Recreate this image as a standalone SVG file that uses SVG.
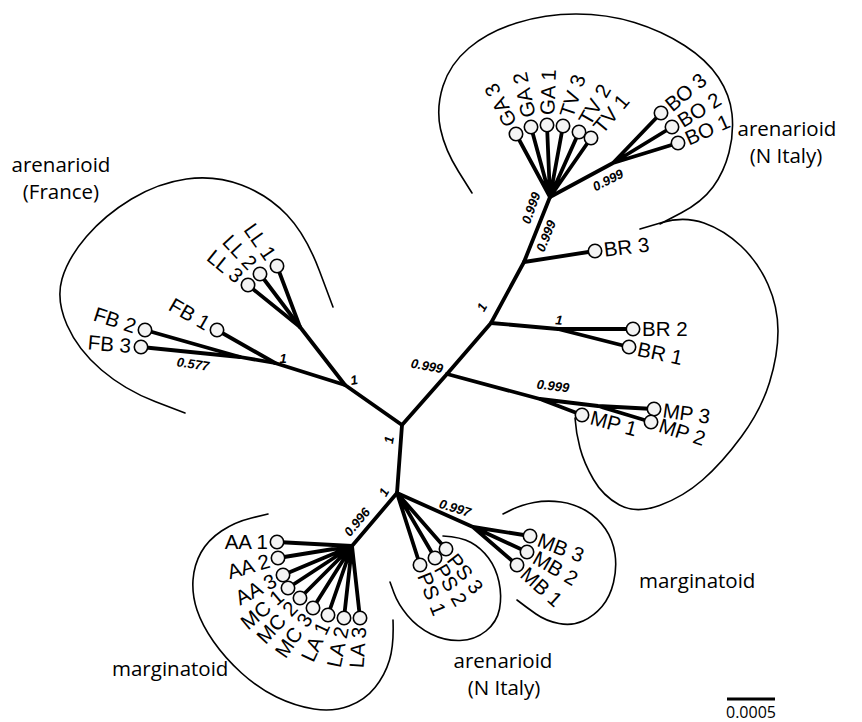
<svg xmlns="http://www.w3.org/2000/svg" width="862" height="722" viewBox="0 0 862 722">
<style>
.br{fill:none;stroke:#000;stroke-width:3.8;stroke-linecap:round;stroke-linejoin:round}
.ol{fill:none;stroke:#000;stroke-width:1.6;stroke-linecap:round}
.tip{fill:#f4f4f4;stroke:#000;stroke-width:1.6}
.lb{font-family:"Liberation Sans",Arial,sans-serif;font-size:20.5px;fill:#000}
.e{text-anchor:end}
.bs{font-family:"Liberation Sans",Arial,sans-serif;font-size:13px;font-weight:bold;font-style:italic;text-anchor:middle;fill:#000}
.gl{font-family:"Open Sans",sans-serif;font-size:20.5px;fill:#000}
</style>
<rect width="862" height="722" fill="#fff"/>
<g id="clade-outlines">
<path class="ol" d="M472,193 L458.5,171.5 Q445,150 440.5,129 Q436,108 443,86 Q450,64 469,48 Q488,32 516.5,23 Q545,14 576,14 Q607,14 634.5,22.5 Q662,31 684.5,45.5 Q707,60 718.5,77.5 Q730,95 732,114 Q734,133 729,152.5 Q724,172 713,187 Q702,202 681,213 L660,224"/>
<path class="ol" d="M185,413 L155,401.5 Q125,390 101.5,370 Q78,350 67,325 Q56,300 62,279 Q68,258 86.5,236.5 Q105,215 131.5,199 Q158,183 186.5,179 Q215,175 241.5,185 Q268,195 287,215 Q306,235 319.5,271 L333,307"/>
<path class="ol" d="M640,229 L662,222.5 Q684,216 704,223 Q724,230 741,246 Q758,262 768,284.5 Q778,307 778,331 Q778,355 769.5,382.5 Q761,410 741.5,436.5 Q722,463 702.5,480 Q683,497 659.5,505.5 Q636,514 619.5,505 Q603,496 593.5,479.5 Q584,463 580,448 Q576,433 575,418"/>
<path class="ol" d="M268,514 L251.5,518 Q235,522 221.5,531 Q208,540 201,552.5 Q194,565 193,580 Q192,595 197,610 Q202,625 213.5,641.5 Q225,658 241.5,673 Q258,688 276.5,697 Q295,706 314,709 Q333,712 349,706 Q365,700 375,687.5 Q385,675 389.5,660 Q394,645 393,620"/>
<path class="ol" d="M390,582 L394,593 Q398,604 407.5,615.5 Q417,627 431,634 Q445,641 460,640.5 Q475,640 486,631 Q497,622 499.5,609 Q502,596 499,582 Q496,568 488.5,558 Q481,548 471,542.5 Q461,537 443,536"/>
<path class="ol" d="M503,514 L512,509.5 Q521,505 534,502.5 Q547,500 561,502 Q575,504 586.5,511 Q598,518 605.5,529 Q613,540 615,554 Q617,568 613.5,582.5 Q610,597 602,606.5 Q594,616 583,621 Q572,626 559,623.5 Q546,621 536,614 Q526,607 517,600"/>
</g>
<g id="connectors">
<polyline class="br" points="397,493 402,425 447,374 491,323 524,262 550,197"/>
<polyline class="br" points="402,425 345,385 275,363 240,357 145,330"/>
<polyline class="br" points="240,357 141,347"/>
<polyline class="br" points="275,363 217,330"/>
<polyline class="br" points="345,385 300,327 248,285"/>
<polyline class="br" points="300,327 260,274"/>
<polyline class="br" points="300,327 277,266"/>
<path class="br" d="M550,197 L516,134 M550,197 L531,127 M550,197 L547,125 M550,197 L563,126 M550,197 L579,132 M550,197 L591,138"/>
<path class="br" d="M550,197 L613,163 L661,113 M613,163 L672,127 M613,163 L678,143"/>
<path class="br" d="M524,262 L595,251"/>
<path class="br" d="M491,323 L558,329 L633,329 M558,329 L629,347"/>
<path class="br" d="M447,374 L540,399 L582,415 M540,399 L598,406 L654,409 M598,406 L651,422"/>
<path class="br" d="M397,493 L352,546 M352,546 L277,542 M352,546 L278,558 M352,546 L283,575 M352,546 L288,588 M352,546 L300,598 M352,546 L313,608 M352,546 L328,615 M352,546 L344,618 M352,546 L360,618"/>
<path class="br" d="M397,493 L446,549 M397,493 L435,558 M397,493 L420,565"/>
<path class="br" d="M397,493 L473,527 L530,536 M473,527 L527,552 M473,527 L517,565"/>
</g>
<g id="support-values">
<text class="bs" transform="translate(531,208) rotate(-70)" y="4.5">0.999</text>
<text class="bs" transform="translate(546,236) rotate(-68)" y="4.5">0.999</text>
<text class="bs" transform="translate(608,180) rotate(-27)" y="4.5">0.999</text>
<text class="bs" transform="translate(482,307) rotate(-60)" y="4.5">1</text>
<text class="bs" transform="translate(559,320) rotate(5)" y="4.5">1</text>
<text class="bs" transform="translate(427,366) rotate(10)" y="4.5">0.999</text>
<text class="bs" transform="translate(553,386) rotate(7)" y="4.5">0.999</text>
<text class="bs" transform="translate(283,358)" y="4.5">1</text>
<text class="bs" transform="translate(354,380) rotate(-10)" y="4.5">1</text>
<text class="bs" transform="translate(193,364) rotate(8)" y="4.5">0.577</text>
<text class="bs" transform="translate(389,440) rotate(-80)" y="4.5">1</text>
<text class="bs" transform="translate(384,492) rotate(-60)" y="4.5">1</text>
<text class="bs" transform="translate(357,522) rotate(-50)" y="4.5">0.996</text>
<text class="bs" transform="translate(455,508) rotate(17)" y="4.5">0.997</text>
</g>
<g id="node-GA3"><circle class="tip" cx="516" cy="134" r="6.7"/><text class="lb" transform="translate(516,134) rotate(-118)" x="10" y="7">GA 3</text></g>
<g id="node-GA2"><circle class="tip" cx="531" cy="127" r="6.7"/><text class="lb" transform="translate(531,127) rotate(-102)" x="10" y="7">GA 2</text></g>
<g id="node-GA1"><circle class="tip" cx="547" cy="125" r="6.7"/><text class="lb" transform="translate(547,125) rotate(-88)" x="10" y="7">GA 1</text></g>
<g id="node-TV3"><circle class="tip" cx="563" cy="126" r="6.7"/><text class="lb" transform="translate(563,126) rotate(-72)" x="10" y="7">TV 3</text></g>
<g id="node-TV2"><circle class="tip" cx="579" cy="132" r="6.7"/><text class="lb" transform="translate(579,132) rotate(-60)" x="10" y="7">TV 2</text></g>
<g id="node-TV1"><circle class="tip" cx="591" cy="138" r="6.7"/><text class="lb" transform="translate(591,138) rotate(-50)" x="10" y="7">TV 1</text></g>
<g id="node-BO3"><circle class="tip" cx="661" cy="113" r="6.7"/><text class="lb" transform="translate(661,113) rotate(-40)" x="9" y="7">BO 3</text></g>
<g id="node-BO2"><circle class="tip" cx="672" cy="127" r="6.7"/><text class="lb" transform="translate(672,127) rotate(-32)" x="9" y="7">BO 2</text></g>
<g id="node-BO1"><circle class="tip" cx="678" cy="143" r="6.7"/><text class="lb" transform="translate(678,143) rotate(-24)" x="9" y="7">BO 1</text></g>
<g id="node-BR3"><circle class="tip" cx="595" cy="251" r="6.7"/><text class="lb" transform="translate(595,251) rotate(-7)" x="9" y="7">BR 3</text></g>
<g id="node-BR2"><circle class="tip" cx="633" cy="329" r="6.7"/><text class="lb" transform="translate(633,329)" x="9" y="7">BR 2</text></g>
<g id="node-BR1"><circle class="tip" cx="629" cy="347" r="6.7"/><text class="lb" transform="translate(629,347) rotate(12)" x="9" y="7">BR 1</text></g>
<g id="node-MP3"><circle class="tip" cx="654" cy="409" r="6.7"/><text class="lb" transform="translate(654,409) rotate(8)" x="9" y="7">MP 3</text></g>
<g id="node-MP2"><circle class="tip" cx="651" cy="422" r="6.7"/><text class="lb" transform="translate(651,422) rotate(18)" x="9" y="7">MP 2</text></g>
<g id="node-MP1"><circle class="tip" cx="582" cy="415" r="6.7"/><text class="lb" transform="translate(582,415) rotate(15)" x="9" y="7">MP 1</text></g>
<g id="node-FB1"><circle class="tip" cx="217" cy="330" r="6.7"/><text class="lb e" transform="translate(217,330) rotate(30)" x="-10" y="7">FB 1</text></g>
<g id="node-FB2"><circle class="tip" cx="145" cy="330" r="6.7"/><text class="lb e" transform="translate(145,330) rotate(18)" x="-10" y="7">FB 2</text></g>
<g id="node-FB3"><circle class="tip" cx="141" cy="347" r="6.7"/><text class="lb e" transform="translate(141,347) rotate(5)" x="-10" y="7">FB 3</text></g>
<g id="node-LL3"><circle class="tip" cx="248" cy="285" r="6.7"/><text class="lb e" transform="translate(248,285) rotate(39)" x="-10" y="7">LL 3</text></g>
<g id="node-LL2"><circle class="tip" cx="260" cy="274" r="6.7"/><text class="lb e" transform="translate(260,274) rotate(47)" x="-10" y="7">LL 2</text></g>
<g id="node-LL1"><circle class="tip" cx="277" cy="266" r="6.7"/><text class="lb e" transform="translate(277,266) rotate(55)" x="-10" y="7">LL 1</text></g>
<g id="node-AA1"><circle class="tip" cx="277" cy="542" r="6.7"/><text class="lb e" transform="translate(277,542)" x="-9" y="7">AA 1</text></g>
<g id="node-AA2"><circle class="tip" cx="278" cy="558" r="6.7"/><text class="lb e" transform="translate(278,558) rotate(-16)" x="-9" y="7">AA 2</text></g>
<g id="node-AA3"><circle class="tip" cx="283" cy="575" r="6.7"/><text class="lb e" transform="translate(283,575) rotate(-28)" x="-9" y="7">AA 3</text></g>
<g id="node-MC1"><circle class="tip" cx="288" cy="588" r="6.7"/><text class="lb e" transform="translate(288,588) rotate(-40)" x="-9" y="7">MC 1</text></g>
<g id="node-MC2"><circle class="tip" cx="300" cy="598" r="6.7"/><text class="lb e" transform="translate(300,598) rotate(-47)" x="-9" y="7">MC 2</text></g>
<g id="node-MC3"><circle class="tip" cx="313" cy="608" r="6.7"/><text class="lb e" transform="translate(313,608) rotate(-55)" x="-9" y="7">MC 3</text></g>
<g id="node-LA1"><circle class="tip" cx="328" cy="615" r="6.7"/><text class="lb e" transform="translate(328,615) rotate(-65)" x="-9" y="7">LA 1</text></g>
<g id="node-LA2"><circle class="tip" cx="344" cy="618" r="6.7"/><text class="lb e" transform="translate(344,618) rotate(-78)" x="-9" y="7">LA 2</text></g>
<g id="node-LA3"><circle class="tip" cx="360" cy="618" r="6.7"/><text class="lb e" transform="translate(360,618) rotate(-86)" x="-9" y="7">LA 3</text></g>
<g id="node-PS3"><circle class="tip" cx="446" cy="549" r="6.7"/><text class="lb" transform="translate(446,549) rotate(52)" x="9" y="7">PS 3</text></g>
<g id="node-PS2"><circle class="tip" cx="435" cy="558" r="6.7"/><text class="lb" transform="translate(435,558) rotate(60)" x="9" y="7">PS 2</text></g>
<g id="node-PS1"><circle class="tip" cx="420" cy="565" r="6.7"/><text class="lb" transform="translate(420,565) rotate(68)" x="9" y="7">PS 1</text></g>
<g id="node-MB3"><circle class="tip" cx="530" cy="536" r="6.7"/><text class="lb" transform="translate(530,536) rotate(21)" x="9" y="7">MB 3</text></g>
<g id="node-MB2"><circle class="tip" cx="527" cy="552" r="6.7"/><text class="lb" transform="translate(527,552) rotate(30)" x="9" y="7">MB 2</text></g>
<g id="node-MB1"><circle class="tip" cx="517" cy="565" r="6.7"/><text class="lb" transform="translate(517,565) rotate(42)" x="9" y="7">MB 1</text></g>
<g id="group-labels">
<text class="gl" x="61" y="172" text-anchor="middle">arenarioid</text>
<text class="gl" x="61" y="199" text-anchor="middle">(France)</text>
<text class="gl" x="787" y="136" text-anchor="middle">arenarioid</text>
<text class="gl" x="786" y="163" text-anchor="middle">(N Italy)</text>
<text class="gl" x="639" y="588">marginatoid</text>
<text class="gl" x="112" y="676">marginatoid</text>
<text class="gl" x="503" y="668" text-anchor="middle">arenarioid</text>
<text class="gl" x="504" y="695" text-anchor="middle">(N Italy)</text>
</g>
<g id="scale-bar">
<line x1="727" y1="699" x2="775" y2="699" stroke="#000" stroke-width="3"/>
<text x="751" y="718" text-anchor="middle" font-family="Open Sans, sans-serif" font-size="16">0.0005</text>
</g>
</svg>
